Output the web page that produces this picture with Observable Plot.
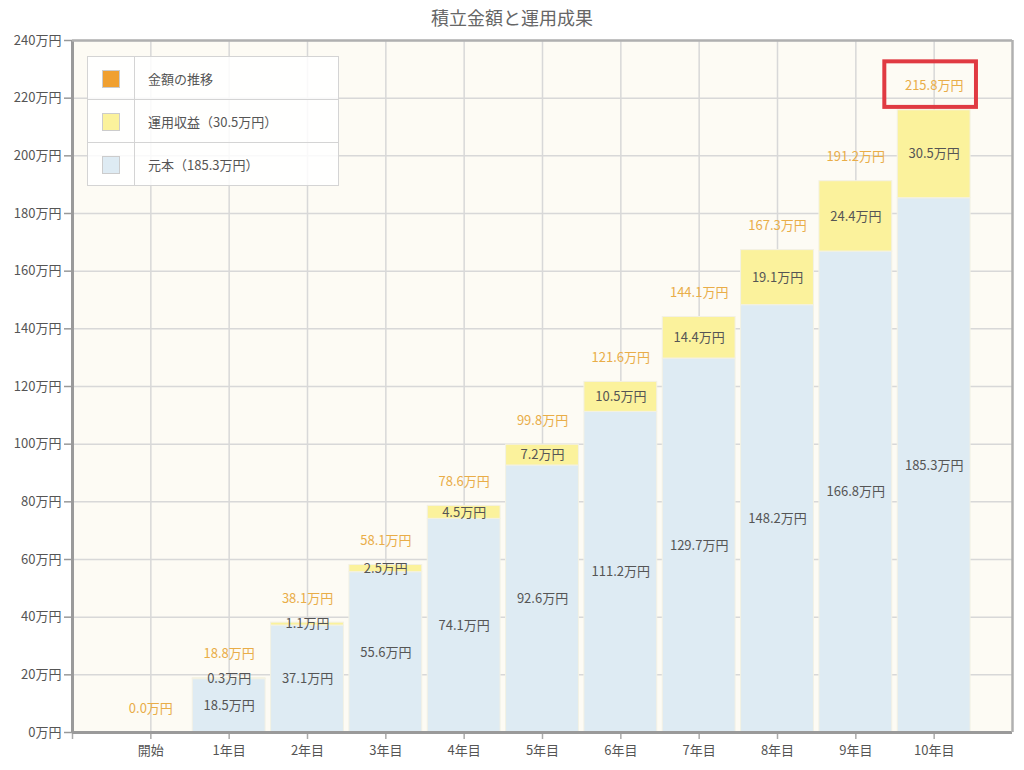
<!DOCTYPE html>
<html><head><meta charset="utf-8">
<script src="https://cdn.jsdelivr.net/npm/d3@7"></script>
<script src="https://cdn.jsdelivr.net/npm/@observablehq/plot@0.6"></script>
<style>
body{margin:0;background:#fff;font-family:"Noto Sans CJK JP","Noto Sans",sans-serif;}
#wrap{position:relative;width:1024px;height:770px;}
#title{height:30px;line-height:34px;text-align:center;font-size:18px;color:#666;}
#legend{position:absolute;left:87px;top:56px;width:252px;border:1px solid #ccc;background:rgba(255,255,255,0.85);border-collapse:collapse;font-size:13px;color:#555;}
#legend td{border:1px solid #d4d4d4;height:42px;padding:0;}
#legend td.sw{width:46px;text-align:center;}
#legend td.lb{padding-left:13px;}
#legend span.box{display:inline-block;width:16px;height:16px;border:1px solid #ccc;vertical-align:middle;}
</style></head>
<body><div id="wrap"><div id="title"></div><div id="chart"></div><table id="legend"></table></div>
<script>
const title = "積立金額と運用成果";
const categories = ["開始","1年目","2年目","3年目","4年目","5年目","6年目","7年目","8年目","9年目","10年目"];
const principal = [0, 18.5, 37.1, 55.6, 74.1, 92.6, 111.2, 129.7, 148.2, 166.8, 185.3];
const gains = [0, 0.3, 1.1, 2.5, 4.5, 7.2, 10.5, 14.4, 19.1, 24.4, 30.5];
const totals = [0.0, 18.8, 38.1, 58.1, 78.6, 99.8, 121.6, 144.1, 167.3, 191.2, 215.8];
const yTicks = [0,20,40,60,80,100,120,140,160,180,200,220,240];
const legendItems = [
  {label:"金額の推移", color:"#f0a030"},
  {label:"運用収益（30.5万円）", color:"#fbf29c"},
  {label:"元本（185.3万円）", color:"#deebf3"}
];
const colPrincipal = "#deebf3", colGain = "#fbf29c", colTotal = "#e9ad48", txt = "#555";

document.getElementById("title").textContent = title;
const leg = document.getElementById("legend");
legendItems.forEach(it => {
  const tr = document.createElement("tr");
  tr.innerHTML = `<td class="sw"><span class="box" style="background:${it.color}"></span></td><td class="lb"></td>`;
  tr.querySelector(".lb").textContent = it.label;
  leg.appendChild(tr);
});

const data = categories.map((c,i) => ({i, c, p: principal[i], g: gains[i], t: totals[i]}));
const fmt = v => v.toFixed(1) + "万円";
const hw = 0.465;
const last = data[data.length-1];

const chart = Plot.plot({
  width: 1024, height: 740,
  marginLeft: 72, marginRight: 12, marginTop: 10, marginBottom: 38,
  style: {fontFamily: '"Noto Sans CJK JP","Noto Sans",sans-serif', fontSize: "12px", color: txt, background: "#fff"},
  x: {type: "linear", domain: [-1, 11], axis: null},
  y: {domain: [0, 240], axis: null},
  marks: [
    Plot.frame({fill: "#fdfbf4", stroke: null}),
    Plot.gridY(yTicks, {stroke: "#d8d8d8", strokeOpacity: 1, strokeWidth: 1.5}),
    Plot.gridX(data.map(d => d.i), {stroke: "#d8d8d8", strokeOpacity: 1, strokeWidth: 1.5}),
    Plot.rect(data.filter(d => d.i > 0), {x1: d => d.i - hw, x2: d => d.i + hw, y1: 0, y2: "p", fill: colPrincipal, stroke: "#f3f1e4", strokeWidth: 1}),
    Plot.rect(data.filter(d => d.i > 0), {x1: d => d.i - hw, x2: d => d.i + hw, y1: "p", y2: "t", fill: colGain, stroke: "#f3f1e4", strokeWidth: 1}),
    Plot.text(data.filter(d => d.i > 0), {x: "i", y: d => d.p / 2, text: d => fmt(d.p), fill: txt, fontSize: 13}),
    Plot.text(data.filter(d => d.i > 0), {x: "i", y: d => d.p + d.g / 2, text: d => fmt(d.g), fill: txt, fontSize: 13}),
    Plot.text(data, {x: "i", y: "t", dy: -24, text: d => fmt(d.t), fill: colTotal, fontSize: 13}),
    Plot.rect([last], {x1: d => d.i - 0.63, x2: d => d.i + 0.54, y1: d => d.t + 1, y2: d => d.t + 16.8, fill: "none", stroke: "#e03a42", strokeWidth: 4}),
    Plot.axisY(yTicks, {tickFormat: d => d + "万円", tickSize: 8, tickPadding: 3, fontSize: 13, color: txt, stroke: "#999", strokeWidth: 1.5, label: null}),
    Plot.axisX([-1, ...data.map(d => d.i)], {tickFormat: d => d < 0 ? "" : categories[d], tickSize: 7, tickPadding: 6, fontSize: 13, color: txt, stroke: "#aaa", strokeWidth: 1.5, label: null}),
    Plot.ruleX([-1], {stroke: "#9a9a9a", strokeWidth: 3}),
    Plot.ruleY([0], {stroke: "#9a9a9a", strokeWidth: 3}),
    Plot.ruleX([11], {stroke: "#b0b0b0", strokeWidth: 2.5}),
    Plot.ruleY([240], {stroke: "#b0b0b0", strokeWidth: 2.5})
  ]
});
document.getElementById("chart").appendChild(chart);
</script></body></html>
